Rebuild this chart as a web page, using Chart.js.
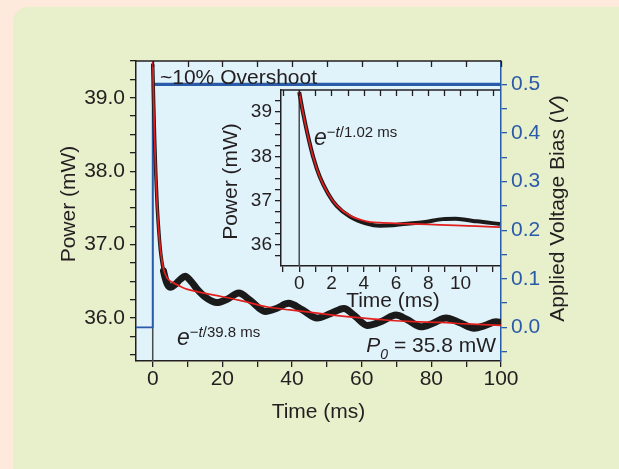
<!DOCTYPE html>
<html>
<head>
<meta charset="utf-8">
<script src="https://cdn.jsdelivr.net/npm/chart.js@4.4.1/dist/chart.umd.min.js"></script>
<style>
  html, body { margin: 0; padding: 0; background: #fdeadd; }
  #wrap { position: relative; width: 619px; height: 469px; }
  canvas { position: absolute; left: 0; top: 0; }
</style>
</head>
<body>
<div id="wrap">
  <canvas id="mainChart" width="619" height="469"></canvas>
  <canvas id="insetChart" width="619" height="469"></canvas>
</div>
<script>
// main panel: measured power (mW) vs time (ms)
const timeMain = [0, 0.25, 0.56, 0.87, 1.28, 1.8, 2.3, 3.1, 4.2, 5.2, 6.5, 8, 9.3, 11, 13, 15.5, 18.4, 21.5, 24.7, 28, 32.3, 35.5, 39, 43, 47.2, 51, 54.9, 58, 61.6, 66, 69.8, 73, 77, 80.5, 84.2, 88, 92.3, 95.5, 98.6, 100];
const powerMain = [39.45, 38.96, 38.43, 37.98, 37.53, 37.15, 36.88, 36.64, 36.46, 36.42, 36.46, 36.53, 36.57, 36.5, 36.38, 36.27, 36.21, 36.26, 36.34, 36.24, 36.09, 36.13, 36.2, 36.11, 36.0, 36.06, 36.13, 36.03, 35.9, 35.96, 36.04, 35.98, 35.88, 35.93, 36.0, 35.94, 35.86, 35.9, 35.95, 35.94];
// main panel: exponential fit
const fitTimeMain = [0, 0.25, 0.56, 0.87, 1.28, 1.8, 2.32, 3.14, 4.2, 5.5, 8, 10, 13.6, 20, 25, 33, 39.5, 45, 50, 58, 67.4, 75, 82.7, 90, 100];
const fitPowerMain = [39.6, 38.96, 38.43, 37.98, 37.53, 37.15, 36.89, 36.66, 36.54, 36.49, 36.43, 36.39, 36.35, 36.29, 36.24, 36.15, 36.11, 36.08, 36.05, 36.01, 35.97, 35.95, 35.94, 35.92, 35.9];
// applied voltage bias (V)
const biasLowTime = [-5, 0, 0];
const biasLow = [0, 0, 0.5];
const biasHighTime = [0, 100];
const biasHigh = [0.5, 0.5];

// inset: first 12 ms
const timeInset = [0, 0.25, 0.56, 0.87, 1.28, 1.8, 2.32, 3.14, 4.18, 5.0, 5.8, 6.45, 7.7, 8.9, 9.7, 10.4, 11.0, 12.45];
const powerInset = [39.45, 38.96, 38.43, 37.98, 37.53, 37.15, 36.88, 36.64, 36.48, 36.43, 36.44, 36.47, 36.51, 36.58, 36.59, 36.56, 36.53, 36.47];
const fitTimeInset = [0, 0.25, 0.56, 0.87, 1.28, 1.8, 2.32, 3.14, 4.18, 5.0, 6.45, 8, 9.7, 11, 12.45];
const fitPowerInset = [39.45, 38.96, 38.43, 37.98, 37.53, 37.15, 36.89, 36.66, 36.53, 36.5, 36.48, 36.46, 36.44, 36.42, 36.4];

// ticks and labels
const xTicksMain = [0, 10, 20, 30, 40, 50, 60, 70, 80, 90, 100];
const xLabelsMain = ['0', '', '20', '', '40', '', '60', '', '80', '', '100'];
const yTicksMain = [35.5, 35.75, 36, 36.25, 36.5, 36.75, 37, 37.25, 37.5, 37.75, 38, 38.25, 38.5, 38.75, 39, 39.25, 39.5];
const yLabelsMain = ['', '', '36.0', '', '', '', '37.0', '', '', '', '38.0', '', '', '', '39.0', '', ''];
const biasTicks = [-0.05, 0, 0.05, 0.1, 0.15, 0.2, 0.25, 0.3, 0.35, 0.4, 0.45, 0.5];
const biasLabels = ['', '0.0', '', '0.1', '', '0.2', '', '0.3', '', '0.4', '', '0.5'];
const xTicksInset = [-1, 0, 1, 2, 3, 4, 5, 6, 7, 8, 9, 10, 11, 12];
const xLabelsInset = ['', '0', '', '2', '', '4', '', '6', '', '8', '', '10', '', ''];
const yTicksInset = [35.75, 36, 36.25, 36.5, 36.75, 37, 37.25, 37.5, 37.75, 38, 38.25, 38.5, 38.75, 39, 39.25];
const yLabelsInset = ['', '36', '', '', '', '37', '', '', '', '38', '', '', '', '39', ''];

const FONT = "'Liberation Sans', Arial, sans-serif";
const INK = '#231f20';
const BLUE = '#2a5ba8';
const RED = '#e4201f';
const PLOT_BG = '#e0f2fa';

const pts = (xs, ys) => xs.map((x, i) => ({ x: x, y: ys[i] }));

function fixedTicks(values) {
  return (scale) => { scale.ticks = values.map(v => ({ value: v })); };
}

function axis(opts) {
  return {
    type: 'linear',
    min: opts.min,
    max: opts.max,
    position: opts.position,
    z: 1,
    afterBuildTicks: fixedTicks(opts.ticks),
    afterFit: opts.fit,
    ticks: {
      autoSkip: false,
      maxRotation: 0,
      padding: opts.padding,
      color: opts.color,
      font: { family: FONT, size: opts.size },
      callback: (v, i) => opts.labels[i]
    },
    grid: { drawOnChartArea: false, drawTicks: true, tickLength: 6, color: opts.color, lineWidth: 1.3 },
    border: { display: true, color: opts.color, width: 1.5 }
  };
}

// draws pieces of text with different fonts one after another
function drawRuns(ctx, runs, x, y, align) {
  let w = 0;
  runs.forEach(r => { ctx.font = r.font; w += ctx.measureText(r.text).width; });
  let cx = align === 'center' ? x - w / 2 : align === 'right' ? x - w : x;
  runs.forEach(r => {
    ctx.font = r.font;
    ctx.fillText(r.text, cx, y + (r.dy || 0));
    cx += ctx.measureText(r.text).width;
  });
}

function rotatedRuns(ctx, runs, x, y) {
  ctx.save();
  ctx.translate(x, y);
  ctx.rotate(-Math.PI / 2);
  drawRuns(ctx, runs, 0, 0, 'center');
  ctx.restore();
}

function topTicks(ctx, chart, values) {
  const a = chart.chartArea, sx = chart.scales.x;
  ctx.strokeStyle = INK;
  ctx.lineWidth = 1.5;
  ctx.beginPath();
  ctx.moveTo(a.left, a.top);
  ctx.lineTo(a.right, a.top);
  ctx.stroke();
  ctx.lineWidth = 1.3;
  values.forEach(v => {
    const px = Math.round(sx.getPixelForValue(v)) + 0.5;
    ctx.beginPath();
    ctx.moveTo(px, a.top);
    ctx.lineTo(px, a.top + 6);
    ctx.stroke();
  });
}

const mainDecor = {
  id: 'mainDecor',
  beforeDraw(chart) {
    const ctx = chart.ctx, a = chart.chartArea;
    ctx.save();
    ctx.fillStyle = '#fdeadd';
    ctx.fillRect(0, 0, chart.width, chart.height);
    ctx.fillStyle = '#e8efcb';
    ctx.beginPath();
    ctx.roundRect(13, 7, 620, 480, 15);
    ctx.fill();
    ctx.fillStyle = PLOT_BG;
    ctx.fillRect(a.left, a.top, a.right - a.left, a.bottom - a.top);
    ctx.restore();
  },
  afterDraw(chart) {
    const ctx = chart.ctx;
    ctx.save();
    topTicks(ctx, chart, xTicksMain);
    ctx.fillStyle = INK;
    ctx.textBaseline = 'alphabetic';
    const reg = '21px ' + FONT;
    rotatedRuns(ctx, [{ text: 'Power (mW)', font: reg }], 74.5, 204);
    drawRuns(ctx, [{ text: 'Time (ms)', font: reg }], 318.5, 418, 'center');
    rotatedRuns(ctx, [
      { text: 'Applied Voltage Bias (', font: reg },
      { text: 'V', font: 'italic 21px ' + FONT },
      { text: ')', font: reg }
    ], 563.5, 208.5);
    drawRuns(ctx, [{ text: '~10% Overshoot', font: reg }], 160, 83.5, 'left');
    drawRuns(ctx, [
      { text: 'e', font: 'italic 23px ' + FONT },
      { text: '\u2212', font: '15px ' + FONT, dy: -8.5 },
      { text: 't', font: 'italic 15px ' + FONT, dy: -8.5 },
      { text: '/39.8 ms', font: '15px ' + FONT, dy: -8.5 }
    ], 177, 345, 'left');
    drawRuns(ctx, [
      { text: 'P', font: 'italic 21px ' + FONT },
      { text: '0', font: 'italic 14px ' + FONT, dy: 7 },
      { text: ' = 35.8 mW', font: reg }
    ], 496, 351.5, 'right');
    ctx.restore();
  }
};

const insetDecor = {
  id: 'insetDecor',
  beforeDraw(chart) {
    const ctx = chart.ctx, a = chart.chartArea;
    ctx.save();
    ctx.fillStyle = PLOT_BG;
    ctx.fillRect(a.left, a.top, a.right - a.left, a.bottom - a.top);
    ctx.restore();
  },
  afterDraw(chart) {
    const ctx = chart.ctx;
    ctx.save();
    topTicks(ctx, chart, xTicksInset);
    ctx.fillStyle = INK;
    ctx.textBaseline = 'alphabetic';
    const reg = '21px ' + FONT;
    rotatedRuns(ctx, [{ text: 'Power (mW)', font: reg }], 237, 181.5);
    drawRuns(ctx, [{ text: 'Time (ms)', font: reg }], 393, 306.5, 'center');
    drawRuns(ctx, [
      { text: 'e', font: 'italic 23px ' + FONT },
      { text: '\u2212', font: '15px ' + FONT, dy: -8.5 },
      { text: 't', font: 'italic 15px ' + FONT, dy: -8.5 },
      { text: '/1.02 ms', font: '15px ' + FONT, dy: -8.5 }
    ], 314, 145, 'left');
    ctx.restore();
  }
};

new Chart(document.getElementById('mainChart'), {
  type: 'line',
  data: {
    datasets: [
      { data: pts(fitTimeMain, fitPowerMain), borderColor: RED, borderWidth: 1.7, cubicInterpolationMode: 'monotone', yAxisID: 'y' },
      { data: pts(timeMain, powerMain), borderColor: '#1a1a1a', borderWidth: 7, cubicInterpolationMode: 'monotone', yAxisID: 'y',
        borderCapStyle: 'round', borderJoinStyle: 'round',
        segment: { borderWidth: c => c.p0.parsed.x < 2.5 ? 3.5 : 7 } },
      { data: pts(biasHighTime, biasHigh), borderColor: BLUE, borderWidth: 3.2, yAxisID: 'y1' },
      { data: pts(biasLowTime, biasLow), borderColor: BLUE, borderWidth: 1.8, yAxisID: 'y1' },
      { data: [{ x: 0, y: 35.4 }, { x: 0, y: 39.5 }], borderColor: '#4a4a4a', borderWidth: 1.5, yAxisID: 'y' }
    ].map(d => Object.assign({ pointRadius: 0, fill: false, clip: 0 }, d))
  },
  options: {
    responsive: false,
    animation: false,
    events: [],
    layout: { padding: { top: 61, left: 0, right: 0, bottom: 0 } },
    plugins: { legend: { display: false }, tooltip: { enabled: false } },
    scales: {
      x: axis({ min: -4.8, max: 100, position: 'bottom', ticks: xTicksMain, labels: xLabelsMain, color: INK, size: 21, padding: 0, fit: s => { s.height = 108; } }),
      y: axis({ min: 35.415, max: 39.5, position: 'left', ticks: yTicksMain, labels: yLabelsMain, color: INK, size: 21, padding: 5, fit: s => { s.width = 136; } }),
      y1: axis({ min: -0.069, max: 0.548, position: 'right', ticks: biasTicks, labels: biasLabels, color: BLUE, size: 21, padding: 4, fit: s => { s.width = 118; } })
    }
  },
  plugins: [mainDecor]
});

new Chart(document.getElementById('insetChart'), {
  type: 'line',
  data: {
    datasets: [
      { data: pts(fitTimeInset, fitPowerInset), borderColor: RED, borderWidth: 1.7, cubicInterpolationMode: 'monotone' },
      { data: pts(timeInset, powerInset), borderColor: '#1a1a1a', borderWidth: 4, cubicInterpolationMode: 'monotone' },
      { data: [{ x: 0, y: 35.5 }, { x: 0, y: 39.5 }], borderColor: '#4a4a4a', borderWidth: 1.5 }
    ].map(d => Object.assign({ pointRadius: 0, fill: false, clip: 0 }, d))
  },
  options: {
    responsive: false,
    animation: false,
    events: [],
    layout: { padding: { top: 90, left: 0, right: 119, bottom: 0 } },
    plugins: { legend: { display: false }, tooltip: { enabled: false } },
    scales: {
      x: axis({ min: -1.13, max: 12.45, position: 'bottom', ticks: xTicksInset, labels: xLabelsInset, color: INK, size: 19, padding: 0, fit: s => { s.height = 203; } }),
      y: axis({ min: 35.52, max: 39.5, position: 'left', ticks: yTicksInset, labels: yLabelsInset, color: INK, size: 19, padding: 3, fit: s => { s.width = 281; } })
    }
  },
  plugins: [insetDecor]
});
</script>
</body>
</html>
